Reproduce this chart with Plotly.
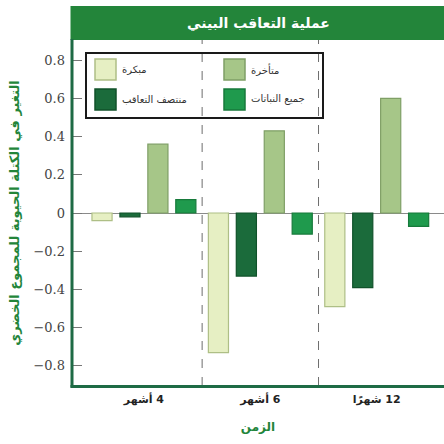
import plotly.graph_objects as go

# ---------------- data ----------------
categories = ["4 أشهر", "6 أشهر", "12 شهرًا"]
early = [-0.04, -0.73, -0.49]
mid_succession = [-0.02, -0.33, -0.39]
late = [0.36, 0.43, 0.60]
all_plants = [0.07, -0.11, -0.07]
series_names = ["مبكرة", "منتصف التعاقب", "متأخرة", "جميع النباتات"]
y_ticks = [-0.8, -0.6, -0.4, -0.2, 0, 0.2, 0.4, 0.6, 0.8]
title_text = "عملية التعاقب البيني"
y_title = "التغير في الكتلة الحيوية للمجموع الخضري"
x_title = "الزمن"

# ---------------- styles ----------------
fills = ["#e6efc3", "#1b6b3b", "#a6c688", "#1f9a4d"]
borders = ["#aebf86", "#10522a", "#7f9f66", "#177a3b"]
AXIS_GREEN = "#1e6b45"
TITLE_GREEN = "#23853a"
FONT = "DejaVu Sans"

W, H = 444, 444
L, R, T, B = 72, 0, 40, 58


def px(x):
    return (x - L) / (W - L - R)


def py(y):
    return (H - B - y) / (H - T - B)


# RLM so digits sit on the right as in Arabic layout
cat_display = ["\u200f" + c for c in categories]

fig = go.Figure()
series = [early, mid_succession, late, all_plants]
for name, vals, fc, bc in zip(series_names, series, fills, borders):
    fig.add_trace(go.Bar(
        x=cat_display, y=vals, name=name,
        marker=dict(color=fc, line=dict(color=bc, width=1.2)),
        showlegend=False,
    ))

shapes = []
# title bar
shapes.append(dict(type="rect", xref="paper", yref="paper",
                   x0=px(70.5), x1=px(460), y0=py(40), y1=py(6),
                   fillcolor=TITLE_GREEN, line=dict(width=0), layer="above"))
# axis frame lines (left and bottom)
shapes.append(dict(type="line", xref="paper", yref="paper", x0=px(72), x1=px(72), y0=py(387.5), y1=py(39),
                   line=dict(color=AXIS_GREEN, width=3), layer="above"))
shapes.append(dict(type="line", xref="paper", yref="paper", x0=px(70.5), x1=px(460), y0=py(386.5), y1=py(386.5),
                   line=dict(color=AXIS_GREEN, width=3), layer="above"))
# dashed separators
for xv in [0.5, 1.5]:
    shapes.append(dict(type="line", xref="x", yref="paper", x0=xv, x1=xv, y0=0, y1=1,
                       line=dict(color="#6d6d6d", width=1, dash="dash"), layer="below"))
# custom legend
shapes.append(dict(type="rect", xref="paper", yref="paper",
                   x0=px(86), x1=px(323), y0=py(118), y1=py(53),
                   fillcolor="rgba(255,255,255,0)", line=dict(color="#1a1a1a", width=2)))
legend_layout = [  # (series index, swatch x0, row y0)
    (0, 95, 59), (2, 224, 59), (1, 95, 89), (3, 224, 89)
]
annotations = []
for idx, sx, sy in legend_layout:
    shapes.append(dict(type="rect", xref="paper", yref="paper",
                       x0=px(sx), x1=px(sx + 21), y0=py(sy + 21), y1=py(sy),
                       fillcolor=fills[idx], line=dict(color=borders[idx], width=1.5)))
    annotations.append(dict(xref="paper", yref="paper", x=px(sx + 25), y=py(sy + 10.5),
                            text=series_names[idx], showarrow=False, xanchor="left", yanchor="middle",
                            font=dict(family=FONT, size=10, color="#333333")))

annotations.append(dict(xref="paper", yref="paper", x=px(258), y=py(23),
                        text=title_text, showarrow=False, xanchor="center", yanchor="middle",
                        font=dict(family=FONT, size=14, color="white", weight="bold")))

fig.update_layout(
    width=W, height=H,
    margin=dict(l=L, r=R, t=T, b=B, pad=0),
    paper_bgcolor="white", plot_bgcolor="white",
    barmode="group", bargap=0.04, bargroupgap=0.28,
    shapes=shapes, annotations=annotations,
    xaxis=dict(
        range=[-0.618, 2.578], showgrid=False, zeroline=False,
        showline=False,
        ticks="", tickfont=dict(family=FONT, size=11, color="#222222", weight="bold"),
        ticklabelstandoff=5,
        title=dict(text=x_title, font=dict(family=FONT, size=12, color=TITLE_GREEN, weight="bold"), standoff=17),
    ),
    yaxis=dict(
        range=[-0.905, 0.905], tickvals=y_ticks, showgrid=False,
        zeroline=True, zerolinecolor="#8a8a8a", zerolinewidth=1,
        showline=False,
        ticks="inside", ticklen=10, tickcolor="#777777", tickwidth=1,
        ticklabelstandoff=6,
        tickfont=dict(family="DejaVu Serif", size=13, color="#444444"),
        title=dict(text=y_title, font=dict(family=FONT, size=13, color=TITLE_GREEN, weight="bold"), standoff=10),
    ),
)

fig.write_html("out.html")
